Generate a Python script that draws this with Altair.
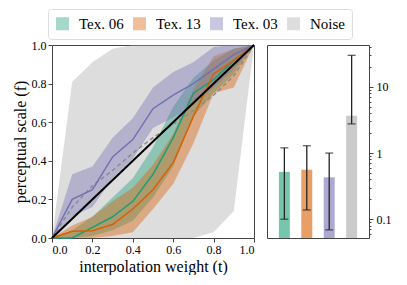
import altair as alt
import pandas as pd

# ---- data ----
t = [0.0, 0.1, 0.2, 0.3, 0.4, 0.5, 0.6, 0.7, 0.8, 0.9, 1.0]
series = ["Tex. 06", "Tex. 13", "Tex. 03", "Noise"]
colors = ["#1b9e77", "#d95f02", "#7570b3", "#a9a9a9"]

tex06_mean = [0, 0.0, 0.055, 0.11, 0.19, 0.33, 0.52, 0.75, 0.82, 0.92, 1]
tex06_lo = [0, 0.0, 0.01, 0.04, 0.09, 0.21, 0.37, 0.63, 0.75, 0.85, 1]
tex06_hi = [0, 0.04, 0.11, 0.21, 0.31, 0.47, 0.68, 0.83, 0.92, 0.98, 1]

tex13_mean = [0, 0.035, 0.038, 0.07, 0.15, 0.25, 0.39, 0.63, 0.85, 0.92, 1]
tex13_lo = [0, 0.0, 0.0, 0.01, 0.03, 0.15, 0.28, 0.49, 0.75, 0.78, 1]
tex13_hi = [0, 0.065, 0.11, 0.19, 0.26, 0.38, 0.54, 0.77, 0.94, 0.98, 1]

tex03_mean = [0, 0.20, 0.25, 0.42, 0.51, 0.67, 0.74, 0.80, 0.875, 0.95, 1]
tex03_lo = [0, 0.11, 0.16, 0.31, 0.41, 0.57, 0.625, 0.69, 0.78, 0.875, 1]
tex03_hi = [0, 0.33, 0.37, 0.52, 0.62, 0.78, 0.86, 0.91, 0.99, 1.0, 1]

noise_mean = [0, 0.16, 0.27, 0.35, 0.44, 0.52, 0.59, 0.66, 0.74, 0.84, 1]
noise_lo = [0, 0, 0, 0, 0, 0, 0, 0, 0.03, 0.14, 1]
noise_hi = [0, 0.81, 0.91, 0.98, 1, 1, 1, 1, 1, 1, 1]

bar_mean = [0.52, 0.56, 0.43, 3.67]
bar_lo = [0.10, 0.138, 0.069, 2.76]
bar_hi = [1.2, 1.29, 1.0, 30.0]

diag = [0.0, 1.0]

# ---- tables ----
rows = []
for name, m, lo, hi in [("Tex. 06", tex06_mean, tex06_lo, tex06_hi),
                        ("Tex. 13", tex13_mean, tex13_lo, tex13_hi),
                        ("Tex. 03", tex03_mean, tex03_lo, tex03_hi),
                        ("Noise", noise_mean, noise_lo, noise_hi)]:
    for i, tv in enumerate(t):
        rows.append({"t": tv, "series": name, "mean": m[i], "lo": lo[i], "hi": hi[i]})
curves = pd.DataFrame(rows)
tex_curves = curves[curves.series != "Noise"]
noise_curves = curves[curves.series == "Noise"]
diag_df = pd.DataFrame({"x": diag, "y": diag})
bars = pd.DataFrame({"series": series, "mean": bar_mean, "lo": bar_lo, "hi": bar_hi})

FONT = "Liberation Serif"
color_scale = alt.Scale(domain=series, range=colors)

xs = alt.Scale(domain=[0, 1], nice=False)
ys = alt.Scale(domain=[0, 1], nice=False)
ticks = [0, 0.2, 0.4, 0.6, 0.8, 1.0]
common = dict(labelFont=FONT, labelFontSize=12, labelColor="black",
              titleFont=FONT, titleFontSize=16, titleFontWeight="normal",
              titleColor="black", tickColor="#444444", domain=False, grid=False,
              labelOverlap=False)
xaxis = alt.Axis(values=ticks, format=".1f", title="interpolation weight (t)",
                 tickSize=4, labelPadding=2, titlePadding=3, **common)
yaxis = alt.Axis(values=ticks, format=".1f", title="perceptual scale (f)",
                 tickSize=4, labelPadding=2, titlePadding=3, **common)

legend = alt.Legend(orient="none", legendX=-4, legendY=-36, direction="horizontal",
                    title=None, symbolType="square", symbolSize=169,
                    symbolOpacity=0.4, symbolStrokeWidth=0,
                    labelFont=FONT, labelFontSize=15, labelOffset=9,
                    columnPadding=8, padding=7, strokeColor="#dddddd",
                    cornerRadius=3, fillColor="white")

X = alt.X("t:Q", scale=xs, axis=xaxis)
noise_band = alt.Chart(noise_curves).mark_area(opacity=0.4).encode(
    x=X,
    y=alt.Y("lo:Q", scale=ys, axis=yaxis),
    y2="hi:Q",
    color=alt.Color("series:N", scale=color_scale, legend=legend),
)
tex_band = alt.Chart(tex_curves).mark_area(opacity=0.4).encode(
    x=X, y=alt.Y("lo:Q", scale=ys, axis=yaxis), y2="hi:Q",
    color=alt.Color("series:N", scale=color_scale, legend=legend),
)
tex_lines = alt.Chart(tex_curves).mark_line(strokeWidth=1.5).encode(
    x=X, y=alt.Y("mean:Q", scale=ys, axis=yaxis),
    color=alt.Color("series:N", scale=color_scale, legend=legend),
)
noise_line = alt.Chart(noise_curves).mark_line(strokeWidth=1.5, strokeDash=[4, 3],
                                               color="#8c8c8c").encode(
    x=X, y=alt.Y("mean:Q", scale=ys, axis=yaxis))
diag_line = alt.Chart(diag_df).mark_line(strokeWidth=2, color="black").encode(
    x=alt.X("x:Q", scale=xs, axis=xaxis), y=alt.Y("y:Q", scale=ys, axis=yaxis))

left = alt.layer(noise_band, tex_band, noise_line, tex_lines, diag_line).properties(
    width=202, height=193)

log_ticks = [0.06, 0.07, 0.08, 0.09, 0.1, 0.2, 0.3, 0.4, 0.5, 0.6, 0.7, 0.8, 0.9,
             1, 2, 3, 4, 5, 6, 7, 8, 9, 10, 20, 30, 40]
major_test = "datum.value == 0.1 || datum.value == 1 || datum.value == 10"
rscale = alt.Scale(type="log", domain=[0.052, 43], nice=False)
raxis = alt.Axis(orient="right", values=log_ticks, title=None,
                 labelExpr="datum.value == 0.1 ? '0.1' : datum.value == 1 ? '1' : datum.value == 10 ? '10' : ''",
                 tickSize={"condition": {"test": major_test, "value": 4}, "value": 2},
                 labelPadding=3, **common)
xband = alt.X("series:N", sort=series, axis=None,
              scale=alt.Scale(paddingInner=0.51, paddingOuter=0.53))
Y = alt.Y("mean:Q", scale=rscale, axis=raxis)

bar_layer = alt.Chart(bars).mark_bar(opacity=0.6).encode(
    x=xband, y=Y, y2=alt.datum(0.052),
    color=alt.Color("series:N", scale=color_scale, legend=legend),
)
err = alt.Chart(bars).mark_rule(color="#222222", strokeWidth=1.3).encode(
    x=xband, y=alt.Y("lo:Q", scale=rscale, axis=raxis), y2="hi:Q")
cap_lo = alt.Chart(bars).mark_tick(color="#222222", thickness=1.3, size=8).encode(
    x=xband, y=alt.Y("lo:Q", scale=rscale, axis=raxis))
cap_hi = alt.Chart(bars).mark_tick(color="#222222", thickness=1.3, size=8).encode(
    x=xband, y=alt.Y("hi:Q", scale=rscale, axis=raxis))

right = alt.layer(bar_layer, err, cap_lo, cap_hi).properties(width=102, height=193)

chart = alt.hconcat(left, right, spacing=7).properties(
    padding={"left": 3, "top": 0, "right": 0, "bottom": 0}
).configure_view(
    stroke="#444444", strokeWidth=1
)

chart.save("out.html", embed_options={"renderer": "svg", "actions": False})
